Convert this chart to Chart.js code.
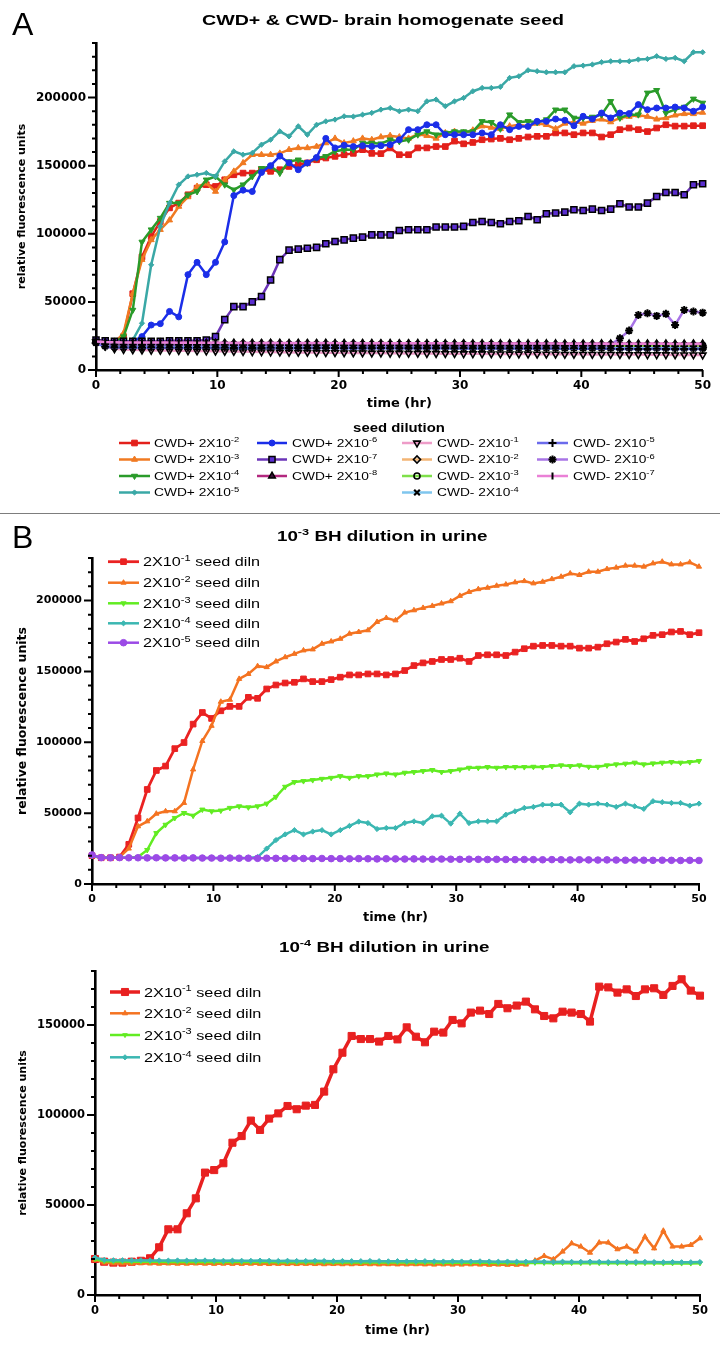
<!DOCTYPE html>
<html><head><meta charset="utf-8">
<script src="https://cdn.jsdelivr.net/npm/chart.js@4.4.1/dist/chart.umd.min.js"></script>
<style>
html,body{margin:0;padding:0;background:#fff;}
body{width:720px;height:1350px;position:relative;overflow:hidden;}
.box{position:absolute;left:0;width:720px;}
#sep{position:absolute;left:0;top:513px;width:720px;height:1px;background:#7d7d7d;}
</style></head><body>
<div class="box" style="top:0;height:512px"><canvas id="cA" width="720" height="512"></canvas></div>
<div id="sep"></div>
<div class="box" style="top:514px;height:416px"><canvas id="cB" width="720" height="416"></canvas></div>
<div class="box" style="top:930px;height:420px"><canvas id="cC" width="720" height="420"></canvas></div>
<script>
// ---------- time points (hr) ----------
const hours = [0,0.76,1.52,2.27,3.03,3.79,4.55,5.3,6.06,6.82,
 7.58,8.33,9.09,9.85,10.61,11.36,12.12,12.88,13.64,14.39,
 15.15,15.91,16.67,17.42,18.18,18.94,19.7,20.45,21.21,21.97,
 22.73,23.48,24.24,25,25.76,26.52,27.27,28.03,28.79,29.55,
 30.3,31.06,31.82,32.58,33.33,34.09,34.85,35.61,36.36,37.12,
 37.88,38.64,39.39,40.15,40.91,41.67,42.42,43.18,43.94,44.7,
 45.45,46.21,46.97,47.73,48.48,49.24,50];
const xTickLabels = [0,10,20,30,40,50];
const yTickLabelsA = [0,50000,100000,150000,200000];
const yTickLabelsB = [0,50000,100000,150000,200000];
const yTickLabelsC = [0,50000,100000,150000];

// ---------- Panel A: CWD+ & CWD- brain homogenate seed ----------
const aNames = ['CWD+ 2X10^{-2}','CWD+ 2X10^{-3}','CWD+ 2X10^{-4}','CWD+ 2X10^{-5}','CWD+ 2X10^{-6}','CWD+ 2X10^{-7}','CWD+ 2X10^{-8}',
  'CWD- 2X10^{-1}','CWD- 2X10^{-2}','CWD- 2X10^{-3}','CWD- 2X10^{-4}','CWD- 2X10^{-5}','CWD- 2X10^{-6}','CWD- 2X10^{-7}'];
const aPos2 = [20800,20000,20000,24500,56000,83000,98000,109000,119000,122500,
 128600,133500,136000,134700,139600,143300,144500,144500,147000,145800,
 147000,149400,150700,152000,154300,155600,156800,158000,159000,161700,
 159000,158800,163000,158000,158000,163000,163000,164000,164000,168000,
 166000,167000,169000,169500,170000,169000,170000,171000,171500,171500,
 174000,174000,172700,174000,174000,171000,172700,176400,177600,176400,
 175000,177600,180000,179000,179000,179300,179300];
const aPos3 = [20500,20000,20000,27000,56000,81000,95500,103000,110000,120000,
 127000,134700,137000,131000,139600,145800,152000,158000,158000,158000,
 159000,161700,163000,163000,164000,166600,170000,166600,168000,170000,
 169000,171000,172000,171000,170000,173000,172000,170000,174000,175000,
 174000,176000,179000,178000,177000,179000,180000,179000,181000,180000,
 177000,181000,182000,181000,183000,184000,182000,185000,186000,187000,
 186000,184000,185000,187000,188000,188000,189000];
const aPos4 = [20500,20000,20000,24500,44000,94000,103000,111500,122500,122500,
 128600,131000,139600,142000,136000,132300,136000,142000,148000,149400,
 144500,153000,154300,152000,155600,156800,160500,161700,161700,166600,
 166600,166100,169000,167800,169000,172700,175000,172700,174000,175000,
 175000,175000,182500,181800,177000,187400,181800,182500,181800,183800,
 191000,191000,185000,185000,185700,187400,197200,185000,187400,187400,
 203400,205300,188600,191100,193000,199000,196000];
const aPos5 = [21000,20000,20000,20000,22000,34300,77200,105400,122500,136000,
 142100,143300,144600,142100,153100,160500,158000,159300,165400,169000,
 175200,171500,178900,172700,180000,182500,183800,186200,186000,187400,
 188700,191100,192300,189900,191100,189900,197200,198500,193600,197200,
 199700,204600,207000,207000,207800,214400,215600,220000,219300,218500,
 218500,218500,223000,223400,224200,225900,226600,226600,226600,227900,
 228300,230300,228300,229100,226600,233200,233200];
const aPos6 = [21000,20500,20500,20500,21000,24500,33000,34000,43000,39000,
 70000,79000,70000,79000,94000,128000,132000,131000,145000,150000,
 157000,152000,147000,152000,156000,170000,163000,165000,164000,164600,
 164000,164600,165400,169000,176400,176400,180000,180000,172700,172700,
 172700,172700,174000,172700,180000,176400,178800,178800,182500,182500,
 184200,183300,179300,186200,184200,188600,185000,188600,188200,194800,
 191100,192300,192300,193000,192300,189900,193000];
const aPos7 = [22000,21500,21000,21000,21000,21000,21000,21000,21500,21500,
 21500,21500,22000,24500,37000,46500,46500,50000,54000,66000,
 81000,88000,88700,89400,90000,92600,94300,95500,96800,97500,
 99200,99200,99200,102400,102900,102900,102900,104900,104900,104900,
 105400,108300,109000,108300,107300,109000,109500,112700,110300,114700,
 115200,115900,117600,117100,118100,117100,118100,122000,119600,119600,
 122500,127400,130300,130300,128600,136000,136700];
const aPos8 = [21000,20200,20000,19900,20000,19900,19800,19900,19800,19800,
 19800,19700,19800,19700,19700,19800,19700,19700,19600,19700,
 19700,19600,19700,19600,19600,19700,19600,19600,19500,19600,
 19600,19500,19600,19500,19500,19600,19500,19500,19400,19500,
 19500,19400,19500,19400,19400,19500,19400,19400,19300,19400,
 19400,19300,19400,19300,19300,19400,19300,19300,19200,19300,
 19300,19200,19300,19200,19200,19300,19200];
const aNeg1 = [20500,17500,15500,15000,14800,14600,14500,14400,14300,14200,
 14100,14000,13900,13800,13700,13600,13500,13400,13300,13200,
 13100,13000,12900,12900,12800,12700,12700,12600,12500,12500,
 12400,12400,12300,12300,12200,12200,12100,12100,12000,12000,
 11900,11900,11900,11800,11800,11700,11700,11700,11600,11600,
 11600,11500,11500,11500,11400,11400,11400,11300,11300,11300,
 11200,11200,11200,11100,11100,11100,11000];
const aNeg2 = [20000,18000,17700,17600,17600,17500,17600,17500,17500,17400,
 17500,17400,17400,17500,17400,17300,17400,17300,17300,17400,
 17300,17200,17300,17200,17200,17300,17200,17100,17200,17100,
 17100,17200,17100,17000,17100,17000,17000,17100,17000,16900,
 17000,16900,16900,17000,16900,16800,16900,16800,16800,16900,
 16800,16700,16800,16700,16700,16800,16700,16600,16700,16600,
 16600,16700,16600,16500,16600,16500,16500];
const aNeg3 = [20500,19500,19300,19200,19200,19100,19200,19100,19100,19000,
 19100,19000,19000,19100,19000,18900,19000,18900,18900,19000,
 18900,18800,18900,18800,18800,18900,18800,18700,18800,18700,
 18700,18800,18700,18600,18700,18600,18600,18700,18600,18500,
 18600,18500,18500,18600,18500,18400,18500,18400,18400,18500,
 18400,18300,18400,18300,18300,18400,18300,18200,18300,18200,
 18200,18300,18200,18100,18200,18100,18100];
const aNeg4 = [20000,17500,17000,16900,16900,16800,16900,16800,16800,16700,
 16800,16700,16700,16800,16700,16600,16700,16600,16600,16700,
 16600,16500,16600,16500,16500,16600,16500,16400,16500,16400,
 16400,16500,16400,16300,16400,16300,16300,16400,16300,16200,
 16300,16200,16200,16300,16200,16100,16200,16100,16100,16200,
 16100,16000,16100,16000,16000,16100,16000,15900,16000,15900,
 15900,16000,15900,15800,15900,15800,15800];
const aNeg5 = [19800,17000,16600,16500,16500,16400,16500,16400,16400,16300,
 16400,16300,16300,16400,16300,16200,16300,16200,16200,16300,
 16200,16100,16200,16100,16100,16200,16100,16000,16100,16000,
 16000,16100,16000,15900,16000,15900,15900,16000,15900,15800,
 15900,15800,15800,15900,15800,15700,15800,15700,15700,15800,
 15700,15600,15700,15600,15600,15700,15600,15500,15600,15500,
 15500,15600,15500,15400,15500,15400,15400];
const aNeg6 = [20000,19000,18800,18700,18700,18600,18700,18600,18600,18500,
 18600,18500,18500,18600,18500,18400,18500,18400,18400,18500,
 18400,18300,18400,18300,18300,18400,18300,18200,18300,18200,
 18200,18300,18200,18100,18200,18100,18100,18200,18100,18000,
 18100,18000,18000,18100,18000,17900,18000,17900,17900,18000,
 17900,17800,17900,17800,17900,18000,18500,23300,28900,40400,
 41600,39700,41200,33100,44100,42900,42100];
const aNeg7 = [21000,20500,20300,20200,20200,20100,20200,20100,20100,20000,
 20100,20000,20000,20100,20000,19900,20000,19900,19900,20000,
 19900,19800,19900,19800,19800,19900,19800,19700,19800,19700,
 19700,19800,19700,19600,19700,19600,19600,19700,19600,19500,
 19600,19500,19500,19600,19500,19400,19500,19400,19400,19500,
 19400,19300,19400,19300,19300,19400,19300,19200,19300,19200,
 19200,19300,19200,19100,19200,19100,19100];

// ---------- Panel B: 10^-3 BH dilution in urine ----------
const bNames = ['2X10^{-1} seed diln','2X10^{-2} seed diln','2X10^{-3} seed diln','2X10^{-4} seed diln','2X10^{-5} seed diln'];
const bSeed1 = [20000,18500,18500,19000,28000,46600,66700,80100,83200,95500,
 99800,112800,121000,116800,122200,125300,125300,131700,131000,137600,
 140400,141800,142300,144700,142800,142800,144200,145900,147500,147500,
 148200,148200,147500,148200,150600,154100,156000,157000,158400,158400,
 159300,157000,161200,161700,161700,161200,163600,166000,167800,168300,
 168300,167800,167800,166400,166400,167100,169500,170700,172600,171100,
 173000,175400,175900,177800,178200,175900,177300];
const bSeed2 = [20000,18500,18500,19000,25000,40700,44200,49600,51300,51300,
 57200,80800,100900,111600,128600,130000,144700,148200,153700,153000,
 157000,160000,162400,164800,165500,169500,171100,173000,176600,177800,
 179000,184900,187700,186000,191500,193100,194800,196200,197900,199500,
 203300,206100,208000,209000,210400,211300,212800,213700,212100,213200,
 215100,216800,219100,218000,220300,220300,222200,223200,224600,224600,
 223900,226200,227400,225500,225500,226900,223900];
const bSeed3 = [20000,18500,18500,18500,18500,19000,24000,35900,41800,46600,
 50100,48200,52500,51300,51800,53700,54800,54100,54800,56700,
 61500,68600,71900,72600,73300,74200,74900,76100,74900,76100,
 76100,77300,78000,77300,78500,79000,79700,80400,79000,79700,
 80800,82000,82000,82500,82000,82500,82500,82500,82700,82500,
 83200,83700,83200,83700,82700,82700,83700,84400,84900,85600,
 84400,85100,85600,86000,85600,86000,86800];
const bSeed4 = [20000,18600,18500,18500,18600,18500,18500,18400,18500,18400,
 18400,18500,18400,18400,18300,18400,18300,18400,19000,25000,
 31000,35000,38000,35000,37000,38000,35000,38000,41000,44000,
 43000,38800,39500,39500,43000,44200,43000,47800,48200,42600,
 49600,43000,44200,44200,44200,48900,51300,53700,54400,56000,
 56000,56000,50600,56700,56000,56700,56000,54400,56700,54800,
 53000,58400,57700,57200,57200,55300,56700];
const bSeed5 = [20500,18600,18500,18600,18500,18500,18400,18500,18400,18400,
 18300,18400,18300,18300,18200,18300,18200,18200,18100,18200,
 18100,18000,18100,18000,17900,18000,17900,17900,17800,17900,
 17800,17700,17800,17700,17600,17700,17600,17500,17600,17500,
 17400,17500,17400,17300,17400,17300,17200,17300,17200,17100,
 17200,17100,17000,17100,17000,16900,17000,16900,16800,16900,
 16800,16700,16800,16700,16600,16700,16600];

// ---------- Panel C: 10^-4 BH dilution in urine ----------
const cNames = ['2X10^{-1} seed diln','2X10^{-2} seed diln','2X10^{-3} seed diln','2X10^{-4} seed diln'];
const cSeed1 = [20000,18500,18000,18000,18500,19000,20400,26500,36500,36500,
 45400,53700,68000,69400,73200,84600,88300,96900,91700,98000,
 100900,105000,103200,105200,105600,113000,125400,134600,143900,142200,
 142200,140800,143900,142000,148700,143500,140400,146300,145800,152800,
 150900,156900,158000,156100,161700,159300,160800,163000,158700,155000,
 153700,157400,156900,156100,151900,171300,170900,168000,169800,166100,
 169800,170400,166700,171700,175400,169100,166300];
const cSeed2 = [19500,18000,17600,17500,17500,17600,17500,17400,17500,17400,
 17400,17500,17400,17300,17400,17300,17300,17400,17300,17200,
 17300,17200,17200,17300,17200,17100,17200,17100,17100,17200,
 17100,17000,17100,17000,17000,17100,17000,16900,17000,16900,
 16900,17000,16900,16800,16900,16800,16800,16900,19100,21700,
 19800,24100,28700,26900,23500,29100,29100,25400,26900,24100,
 32400,25900,35700,26900,26900,27800,31500];
const cSeed3 = [20000,18800,18600,18600,18500,18600,18500,18500,18400,18500,
 18400,18400,18500,18400,18300,18400,18300,18300,18400,18300,
 18200,18300,18200,18200,18300,18200,18100,18200,18100,18100,
 18200,18100,18000,18100,18000,18000,18100,18000,17900,18000,
 17900,17900,18000,17900,17800,17900,17800,17800,17900,17800,
 17700,17800,17700,17700,17800,17700,17600,17700,17600,17600,
 17700,17600,17500,17600,17500,17500,17600];
const cSeed4 = [20800,19500,19300,19300,19200,19300,19200,19200,19100,19200,
 19100,19100,19200,19100,19000,19100,19000,19000,19100,19000,
 18900,19000,18900,18900,19000,18900,18800,18900,18800,18800,
 18900,18800,18700,18800,18700,18700,18800,18700,18600,18700,
 18600,18600,18700,18600,18500,18600,18500,18500,18600,18500,
 18400,18500,18400,18400,18500,18400,18300,18400,18300,18300,
 18400,18300,18200,18300,18200,18200,18300];

// ---------- helpers ----------
function pts(arr){ return hours.map((h,i)=>({x:h, y:arr[i]})); }
function series(label, arr, st){
  return {
    label: label, data: pts(arr), borderColor: st.line, backgroundColor: st.line,
    borderWidth: st.lw || 2.5, pointStyle: st.ps, pointRotation: st.rot || 0,
    pointRadius: st.r, pointBackgroundColor: st.fill || st.line,
    pointBorderColor: st.stroke || st.fill || st.line, pointBorderWidth: st.bw || 1,
    tension: 0, clip: false
  };
}
function drawRich(ctx, o){
  const size = o.size, fam = o.family || 'Liberation Sans', wt = o.weight || 'normal';
  const segs = [];
  o.text.split(/(\^\{[^}]*\})/).forEach(s => {
    if (!s) return;
    if (s.indexOf('^{') === 0) segs.push({t: s.slice(2, -1), sup: true});
    else segs.push({t: s, sup: false});
  });
  const fMain = wt + ' ' + size + 'px "' + fam + '"';
  const fSup = wt + ' ' + (size * 0.68).toFixed(1) + 'px "' + fam + '"';
  let w = 0;
  segs.forEach(s => { ctx.font = s.sup ? fSup : fMain; s.w = ctx.measureText(s.t).width; w += s.w; });
  const sx = o.sx || 1;
  let x0 = o.x;
  if (o.align === 'center') x0 = o.x - w * sx / 2;
  const base = o.y + size * 0.36;
  ctx.save();
  ctx.translate(x0, base); ctx.scale(sx, 1);
  ctx.fillStyle = o.color || '#000'; ctx.textBaseline = 'alphabetic'; ctx.textAlign = 'left';
  let cx = 0;
  segs.forEach(s => { ctx.font = s.sup ? fSup : fMain; ctx.fillText(s.t, cx, s.sup ? -size * 0.42 : 0); cx += s.w; });
  ctx.restore();
}
function marker(ctx, d, x, y){
  ctx.save();
  ctx.fillStyle = d.pointBackgroundColor; ctx.strokeStyle = d.pointBorderColor; ctx.lineWidth = d.pointBorderWidth;
  if (Chart.helpers && Chart.helpers.drawPoint) {
    Chart.helpers.drawPoint(ctx, {pointStyle: d.pointStyle, rotation: d.pointRotation || 0, radius: d.pointRadius, borderWidth: d.pointBorderWidth}, x, y);
  } else {
    ctx.beginPath(); ctx.arc(x, y, d.pointRadius, 0, Math.PI * 2); ctx.fill(); ctx.stroke();
  }
  ctx.restore();
}
const decorPlugin = {
  id: 'decor',
  afterDraw(chart, args, opts){
    const ctx = chart.ctx;
    (opts.texts || []).forEach(t => drawRich(ctx, t));
    (opts.legend || []).forEach(l => {
      const d = chart.data.datasets[l.ds];
      ctx.save();
      ctx.strokeStyle = d.borderColor; ctx.lineWidth = d.borderWidth;
      ctx.beginPath(); ctx.moveTo(l.x1, l.y); ctx.lineTo(l.x2, l.y); ctx.stroke();
      ctx.restore();
      marker(ctx, d, (l.x1 + l.x2) / 2, l.y);
      drawRich(ctx, Object.assign({}, opts.legendFont, {text: l.text, x: l.tx, y: l.y}));
    });
  }
};
const tickPlugin = {
  id: 'prismTicks',
  afterDraw(chart, args, o){
    const ctx = chart.ctx, xs = chart.scales.x, ys = chart.scales.y;
    ctx.save(); ctx.strokeStyle = '#000'; ctx.lineWidth = 2; ctx.beginPath();
    xs.ticks.forEach(t => {
      const p = xs.getPixelForValue(t.value);
      const L = xTickLabels.includes(t.value) ? o.xMaj : o.xMin;
      ctx.moveTo(p, xs.top); ctx.lineTo(p, xs.top + L);
    });
    ys.ticks.forEach(t => {
      const p = ys.getPixelForValue(t.value);
      const L = o.yLabels.includes(t.value) ? o.yMaj : o.yMin;
      ctx.moveTo(ys.right, p); ctx.lineTo(ys.right - L, p);
    });
    ctx.stroke(); ctx.restore();
  }
};
Chart.register(decorPlugin, tickPlugin);
Chart.defaults.color = '#000';
Chart.defaults.font.family = 'DejaVu Sans';

function makeOptions(c){
  return {
    responsive: false, animation: false, events: [],
    layout: {padding: {left: 0, top: c.top, right: c.right, bottom: c.bottom}},
    plugins: {legend: {display: false}, tooltip: {enabled: false}, title: {display: false},
      decor: c.decor, prismTicks: {xMaj: 7, xMin: 4, yMaj: 8, yMin: 4, yLabels: c.yLabels}},
    scales: {
      x: {type: 'linear', min: 0, max: 50,
        border: {display: true, color: '#000', width: 2.6},
        grid: {display: false, drawTicks: false},
        ticks: {stepSize: 2, autoSkip: false, maxRotation: 0, padding: c.xPad, color: '#000',
          font: {family: 'DejaVu Sans', weight: 'bold', size: c.tickSize},
          callback: v => xTickLabels.includes(v) ? String(v) : ''},
        title: {display: true, text: 'time (hr)', color: '#000', padding: {top: 0, bottom: 0},
          font: {family: 'DejaVu Sans', weight: 'bold', size: 13}},
        afterFit: s => { s.height = c.xH; }
      },
      y: {type: 'linear', min: 0, max: c.ymax,
        border: {display: true, color: '#000', width: 2.6},
        grid: {display: false, drawTicks: false},
        ticks: {stepSize: 10000, autoSkip: false, padding: 10, color: '#000',
          font: {family: 'DejaVu Sans', weight: 'bold', size: c.tickSize},
          callback: v => c.yLabels.includes(v) ? String(v) : ''},
        title: {display: true, text: 'relative fluorescence units', color: '#000', padding: {top: c.yTitlePad, bottom: 0},
          font: {family: 'DejaVu Sans', weight: 'bold', size: c.yTitleSize}},
        afterFit: s => { s.width = c.yW; }
      }
    }
  };
}
function withOrder(list){ list.forEach((d, i) => { d.order = -i; }); return list; }

// ---------- Chart A ----------
const aStyles = [
  {line: '#e3201b', ps: 'rect', r: 4},
  {line: '#f07a22', ps: 'triangle', r: 3.5},
  {line: '#2a9b2a', ps: 'triangle', rot: 180, r: 3.5},
  {line: '#3aa8a6', ps: 'rectRot', r: 2.6},
  {line: '#1b2ee8', ps: 'circle', r: 3},
  {line: '#6b34b8', ps: 'rect', r: 4.3, fill: '#5a2ed0', stroke: '#000', bw: 1.5},
  {line: '#b3287f', ps: 'triangle', r: 3.8, fill: '#3b1238', stroke: '#000', bw: 1.5},
  {line: '#ee9cc8', ps: 'triangle', rot: 180, r: 3.8, fill: 'rgba(255,255,255,0)', stroke: '#000', bw: 1.6},
  {line: '#f3b574', ps: 'rectRot', r: 3.5, fill: 'rgba(255,255,255,0)', stroke: '#000', bw: 1.6},
  {line: '#7fe04a', ps: 'circle', r: 3, fill: 'rgba(255,255,255,0)', stroke: '#000', bw: 1.6},
  {line: '#7fc6ee', ps: 'crossRot', r: 4, fill: '#000', stroke: '#000', bw: 2.2},
  {line: '#6b6bec', ps: 'cross', r: 4, fill: '#000', stroke: '#000', bw: 2},
  {line: '#a874e6', ps: 'star', r: 4, fill: '#000', stroke: '#000', bw: 2},
  {line: '#ea80d6', ps: 'line', rot: 90, r: 3.5, fill: '#000', stroke: '#000', bw: 2}
];
const aData = [aPos2, aPos3, aPos4, aPos5, aPos6, aPos7, aPos8, aNeg1, aNeg2, aNeg3, aNeg4, aNeg5, aNeg6, aNeg7];
const aSets = withOrder(aData.map((arr, i) => series(aNames[i], arr, aStyles[i])));
const aCols = [{x1: 119, x2: 150, tx: 154}, {x1: 257, x2: 287, tx: 292}, {x1: 402, x2: 432, tx: 437}, {x1: 537, x2: 568, tx: 573}];
const aRows = [443, 459.5, 476, 492.5];
const aLegendPlace = [[0,0],[0,1],[0,2],[0,3],[1,0],[1,1],[1,2],[2,0],[2,1],[2,2],[2,3],[3,0],[3,1],[3,2]];
const aLegend = aLegendPlace.map((p, i) => ({ds: i, text: aNames[i], x1: aCols[p[0]].x1, x2: aCols[p[0]].x2, tx: aCols[p[0]].tx, y: aRows[p[1]]}));
new Chart(document.getElementById('cA'), {
  type: 'line',
  data: {datasets: aSets},
  options: makeOptions({top: 43, right: 13, bottom: 101, xH: 41, yW: 96, ymax: 240000, xPad: 9, tickSize: 12,
    yTitlePad: 16, yTitleSize: 11, yLabels: yTickLabelsA,
    decor: {
      texts: [
        {text: 'A', x: 12, y: 23.5, size: 32, family: 'Liberation Sans'},
        {text: 'CWD+ & CWD- brain homogenate seed', x: 202, y: 20, size: 14, weight: 'bold', sx: 1.4},
        {text: 'seed dilution', x: 399, y: 428, size: 12, weight: 'bold', sx: 1.24, align: 'center'}
      ],
      legend: aLegend,
      legendFont: {size: 11, sx: 1.25, family: 'Liberation Sans'}
    }})
});

// ---------- Chart B ----------
const bStyles = [
  {line: '#ea2222', ps: 'rect', r: 4, lw: 2.8},
  {line: '#f47321', ps: 'triangle', r: 3},
  {line: '#62ec22', ps: 'triangle', rot: 180, r: 3},
  {line: '#3bb7b2', ps: 'rectRot', r: 2.6},
  {line: '#9b4ae6', ps: 'circle', r: 3.3}
];
const bData = [bSeed1, bSeed2, bSeed3, bSeed4, bSeed5];
const bSets = withOrder(bData.map((arr, i) => series(bNames[i], arr, bStyles[i])));
const bRows = [47.7, 68.7, 89.3, 109.3, 128.7];
const bLegend = bNames.map((n, i) => ({ds: i, text: n, x1: 108, x2: 139, tx: 143, y: bRows[i]}));
new Chart(document.getElementById('cB'), {
  type: 'line',
  data: {datasets: bSets},
  options: makeOptions({top: 44, right: 21, bottom: 5, xH: 41, yW: 92, ymax: 230000, xPad: 9, tickSize: 11,
    yTitlePad: 15, yTitleSize: 12.5, yLabels: yTickLabelsB,
    decor: {
      texts: [
        {text: 'B', x: 12, y: 22, size: 32, family: 'Liberation Sans'},
        {text: '10^{-3} BH dilution in urine', x: 277, y: 22, size: 14, weight: 'bold', sx: 1.34}
      ],
      legend: bLegend,
      legendFont: {size: 12, sx: 1.35, family: 'Liberation Sans'}
    }})
});

// ---------- Chart C ----------
const cStyles = [
  {line: '#e82020', ps: 'rect', r: 5, lw: 3.5},
  {line: '#f47321', ps: 'triangle', r: 3},
  {line: '#62ec22', ps: 'triangle', rot: 180, r: 2.6},
  {line: '#3bb7b2', ps: 'rectRot', r: 2.6}
];
const cData = [cSeed1, cSeed2, cSeed3, cSeed4];
const cSets = withOrder(cData.map((arr, i) => series(cNames[i], arr, cStyles[i])));
const cRows = [62, 83.3, 105, 127.3];
const cLegend = cNames.map((n, i) => ({ds: i, text: n, x1: 110, x2: 140, tx: 144, y: cRows[i]}));
new Chart(document.getElementById('cC'), {
  type: 'line',
  data: {datasets: cSets},
  options: makeOptions({top: 41, right: 20, bottom: 12, xH: 43, yW: 95, ymax: 180000, xPad: 9, tickSize: 11.5,
    yTitlePad: 17, yTitleSize: 11, yLabels: yTickLabelsC,
    decor: {
      texts: [
        {text: '10^{-4} BH dilution in urine', x: 279, y: 17, size: 14, weight: 'bold', sx: 1.34}
      ],
      legend: cLegend,
      legendFont: {size: 13, sx: 1.25, family: 'Liberation Sans'}
    }})
});
</script>
</body></html>
